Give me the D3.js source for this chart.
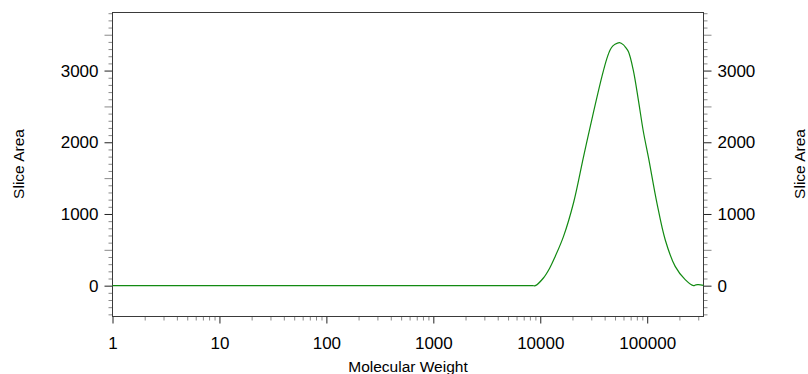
<!DOCTYPE html>
<html>
<head>
<meta charset="utf-8">
<script src="https://cdn.jsdelivr.net/npm/d3@7"></script>
<style>
  body { margin: 0; background: #fff; }
  svg { display: block; font-family: "Liberation Sans", Arial, sans-serif; }
</style>
</head>
<body>
<svg width="808" height="374"></svg>
<script>
// molecular weight (x) and slice area (y)
var mw    = [1, 10, 100, 1000, 5000, 8500, 8980, 10700, 12200, 13800, 16500, 20500, 25400, 31500, 37700, 42000, 45100, 47500, 50000, 55100, 60000, 63000, 66800, 74000, 82900, 92000, 102900, 123300, 147300, 182600, 226600, 271000, 285000, 301500, 336000];
var area  = [0, 0, 0, 0, 0, 0, 0, 107, 240, 408, 687, 1160, 1800, 2424, 2916, 3170, 3290, 3340, 3368, 3390, 3358, 3320, 3262, 3010, 2578, 2150, 1783, 1152, 641, 269, 84, 0, 12, 14, 4];
var xTicks = [1, 10, 100, 1000, 10000, 100000];
var yTicks = [0, 1000, 2000, 3000];

// plot box (note: "top" is a reserved window prop, so use other names)
var plotL = 112.5, plotR = 703.5, plotT = 12.5, plotB = 316.5;

var svg = d3.select('svg');
var x = d3.scaleLog().domain([1, 336000]).range([plotL, plotR]);
var y = d3.scaleLinear().domain([-430, 3810]).range([plotB, plotT]);

// minor tick values
var xMinor = [];
for (var p = 1; p <= 100000; p *= 10) {
    for (var k = 2; k <= 9; k++) {
        if (k * p <= 336000) xMinor.push(k * p);
    }
}
var yMid = [], ySmall = [];
for (var v = -400; v <= 3800; v += 100) {
    if (v % 1000 === 0) continue;
    if (v % 500 === 0) yMid.push(v);
    else ySmall.push(v);
}

function styleAxis(g, color) {
    g.select('.domain').remove();
    g.selectAll('.tick line').attr('stroke', color);
    g.selectAll('text').attr('fill', '#000').attr('font-size', 17);
}

// bottom axis
svg.append('g').attr('transform', 'translate(0,' + plotB + ')')
    .call(d3.axisBottom(x).tickValues(xMinor).tickSize(4).tickFormat(''))
    .call(g => styleAxis(g, '#8a8a8a'));
svg.append('g').attr('transform', 'translate(0,' + plotB + ')')
    .call(d3.axisBottom(x).tickValues(xTicks).tickSize(7).tickPadding(13).tickFormat(d3.format('d')))
    .call(g => styleAxis(g, '#222'));

// left and right axes
[['axisLeft', plotL], ['axisRight', plotR]].forEach(function (a) {
    svg.append('g').attr('transform', 'translate(' + a[1] + ',0)')
        .call(d3[a[0]](y).tickValues(ySmall).tickSize(4).tickFormat(''))
        .call(g => styleAxis(g, '#8a8a8a'));
    svg.append('g').attr('transform', 'translate(' + a[1] + ',0)')
        .call(d3[a[0]](y).tickValues(yMid).tickSize(8).tickFormat(''))
        .call(g => styleAxis(g, '#8a8a8a'));
    svg.append('g').attr('transform', 'translate(' + a[1] + ',0)')
        .call(d3[a[0]](y).tickValues(yTicks).tickSize(8).tickPadding(6).tickFormat(d3.format('d')))
        .call(g => styleAxis(g, '#222'));
});

// frame
svg.append('rect')
    .attr('x', plotL).attr('y', plotT)
    .attr('width', plotR - plotL).attr('height', plotB - plotT)
    .attr('fill', 'none').attr('stroke', '#3a3a3a').attr('stroke-width', 1);

// curve
var line = d3.line()
    .x((d, i) => x(mw[i]))
    .y(d => y(d))
    .curve(d3.curveCatmullRom.alpha(0.5));
svg.append('path')
    .datum(area)
    .attr('d', line)
    .attr('fill', 'none')
    .attr('stroke', '#128a12')
    .attr('stroke-width', 1.2);

// titles
svg.append('text')
    .attr('x', (plotL + plotR) / 2).attr('y', 371.5)
    .attr('text-anchor', 'middle').attr('font-size', 15.5)
    .text('Molecular Weight');
svg.append('text')
    .attr('transform', 'translate(23.5,164) rotate(-90)')
    .attr('text-anchor', 'middle').attr('font-size', 15.5)
    .text('Slice Area');
svg.append('text')
    .attr('transform', 'translate(805,164) rotate(-90)')
    .attr('text-anchor', 'middle').attr('font-size', 15.5)
    .text('Slice Area');
</script>
</body>
</html>
